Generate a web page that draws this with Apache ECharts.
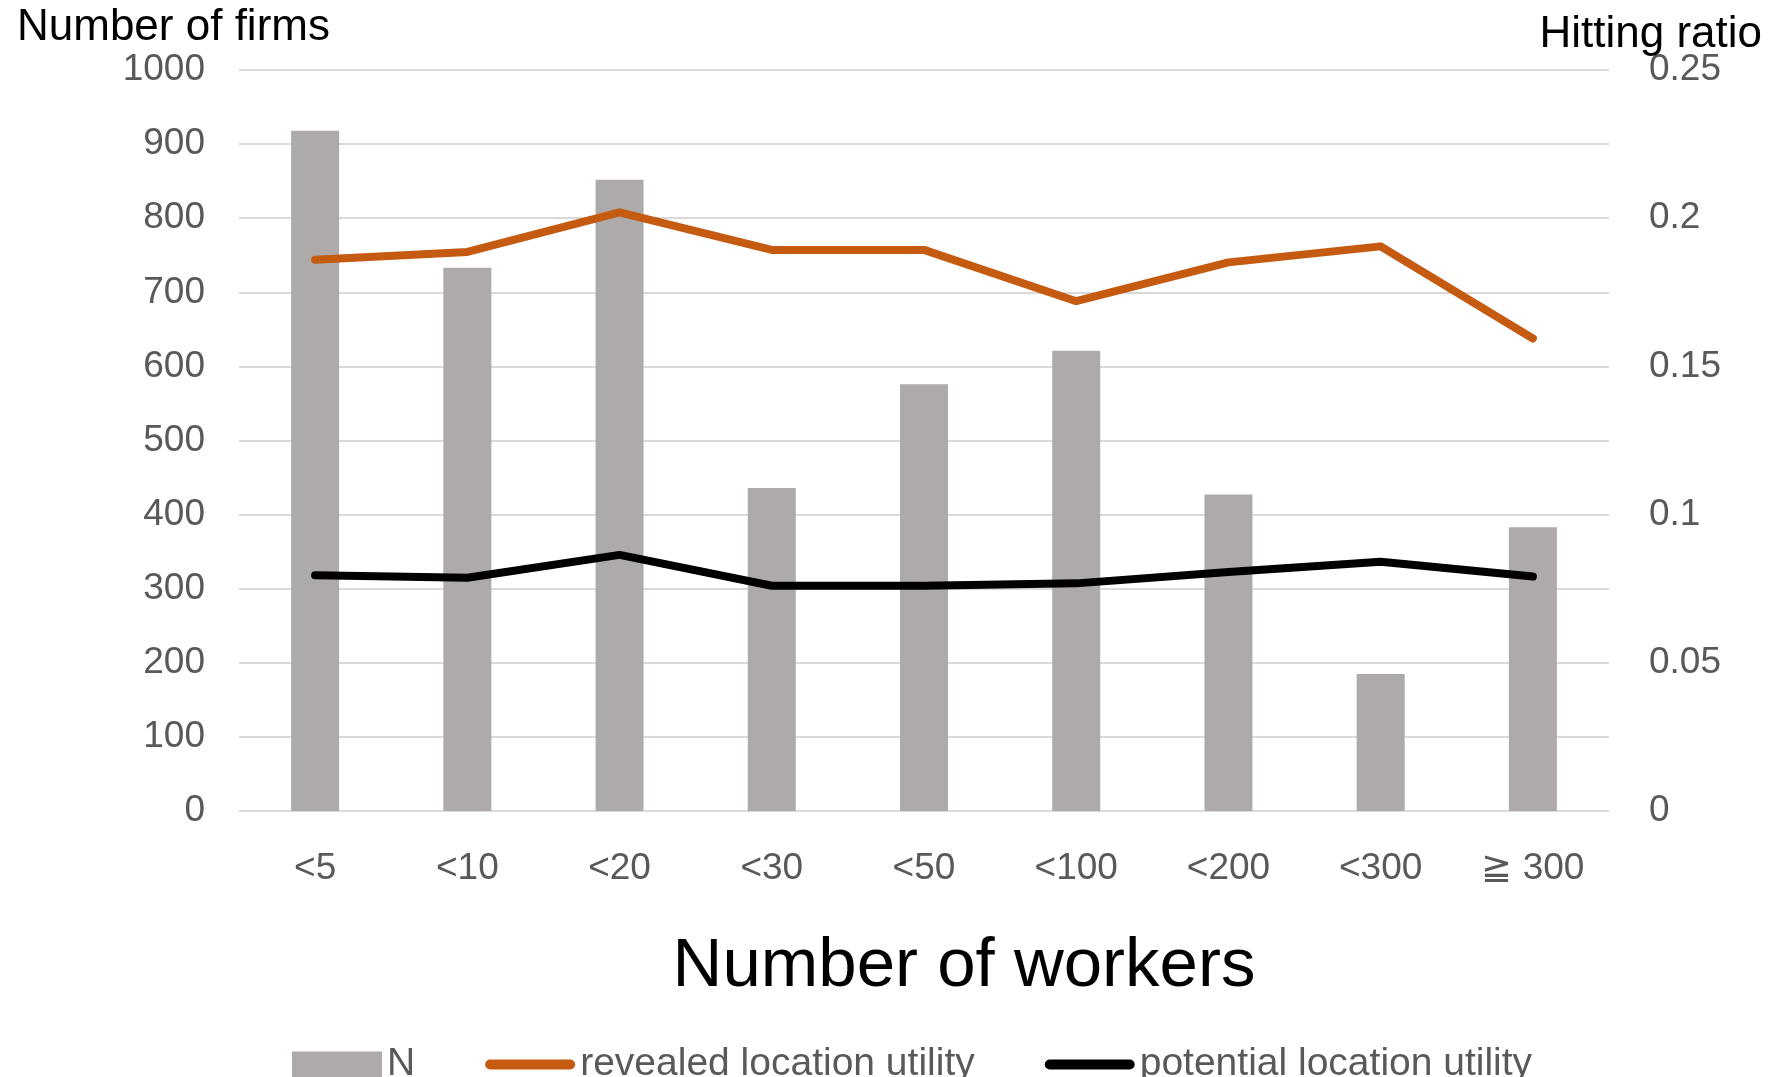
<!DOCTYPE html>
<html>
<head>
<meta charset="utf-8">
<script src="https://cdn.jsdelivr.net/npm/echarts@6/dist/echarts.min.js"></script>
<style>
  html, body { margin: 0; padding: 0; background: #ffffff; }
  #chart { width: 1783px; height: 1077px; }
</style>
</head>
<body>
<div id="chart"></div>
<script>
// Firm-size classes (number of workers)
const categories = ['<5', '<10', '<20', '<30', '<50', '<100', '<200', '<300', '≧ 300'];
// Number of firms in each class (left axis)
const firmCounts = [918, 733, 852, 436, 576, 621, 427, 185, 383];
// Hitting ratio of revealed location utility (right axis)
const revealedUtility = [0.186, 0.1886, 0.202, 0.1893, 0.1893, 0.172, 0.1851, 0.1905, 0.1594];
// Hitting ratio of potential location utility (right axis)
const potentialUtility = [0.0795, 0.0787, 0.0864, 0.076, 0.076, 0.0768, 0.0806, 0.0841, 0.0791];
// Axis tick settings
const leftTicks = { min: 0, max: 1000, interval: 100 };
const rightTicks = { min: 0, max: 0.25, interval: 0.05 };

const FONT = '"Liberation Sans", Arial, sans-serif';
const GREY_TEXT = '#595959';
const GRID_COLOR = '#d9d9d9';

// Legend icon for the line series: a thick capsule centred in a 90x26 box
const LINE_ICON = 'path://M0,0 M90,26 M5,8 L85,8 A5,5 0 0 1 85,18 L5,18 A5,5 0 0 1 5,8 Z';

const chart = echarts.init(document.getElementById('chart'), null, { renderer: 'canvas' });

chart.setOption({
  backgroundColor: '#ffffff',
  animation: false,
  textStyle: { fontFamily: FONT },
  title: [
    {
      text: 'Number of firms',
      left: 12, top: 1,
      textStyle: { fontFamily: FONT, fontSize: 44, fontWeight: 'normal', color: '#000000' }
    },
    {
      text: 'Hitting ratio',
      right: 16, top: 8,
      textStyle: { fontFamily: FONT, fontSize: 44, fontWeight: 'normal', color: '#000000' }
    }
  ],
  grid: { left: 239, right: 174, top: 70, bottom: 266, containLabel: false },
  legend: {
    left: 287, top: 1040,
    itemWidth: 90, itemHeight: 26, itemGap: 70,
    textStyle: { fontFamily: FONT, fontSize: 39, color: GREY_TEXT },
    data: [
      { name: 'N', icon: 'rect' },
      { name: 'revealed location utility', icon: LINE_ICON, itemStyle: { color: '#c55a11' } },
      { name: 'potential location utility', icon: LINE_ICON, itemStyle: { color: '#000000' } }
    ]
  },
  xAxis: {
    type: 'category',
    data: categories,
    name: 'Number of workers',
    nameLocation: 'middle',
    nameGap: 121,
    nameTextStyle: { fontFamily: FONT, fontSize: 69, color: '#000000', padding: [0, 0, 0, 80] },
    axisLine: { show: false },
    axisTick: { show: false },
    axisLabel: { fontFamily: FONT, fontSize: 37, color: GREY_TEXT, margin: 39, interval: 0 }
  },
  yAxis: [
    {
      type: 'value',
      min: leftTicks.min, max: leftTicks.max, interval: leftTicks.interval,
      axisLine: { show: false },
      axisTick: { show: false },
      axisLabel: { fontFamily: FONT, fontSize: 37, color: GREY_TEXT, margin: 34, formatter: v => String(v), padding: [4, 0, 0, 0] },
      splitLine: { show: true, lineStyle: { color: GRID_COLOR, width: 2 } }
    },
    {
      type: 'value',
      min: rightTicks.min, max: rightTicks.max, interval: rightTicks.interval,
      axisLine: { show: false },
      axisTick: { show: false },
      axisLabel: { fontFamily: FONT, fontSize: 37, color: GREY_TEXT, margin: 40, padding: [4, 0, 0, 0] },
      splitLine: { show: false }
    }
  ],
  series: [
    {
      name: 'N',
      type: 'bar',
      yAxisIndex: 0,
      data: firmCounts,
      barWidth: 48,
      itemStyle: { color: '#aeaaaa' },
      z: 1
    },
    {
      name: 'revealed location utility',
      type: 'line',
      yAxisIndex: 1,
      data: revealedUtility,
      symbol: 'none',
      color: '#c55a11',
      lineStyle: { color: '#c55a11', width: 8, cap: 'round', join: 'round' },
      z: 3
    },
    {
      name: 'potential location utility',
      type: 'line',
      yAxisIndex: 1,
      data: potentialUtility,
      symbol: 'none',
      color: '#000000',
      lineStyle: { color: '#000000', width: 8, cap: 'round', join: 'round' },
      z: 3
    }
  ]
});
</script>
</body>
</html>
